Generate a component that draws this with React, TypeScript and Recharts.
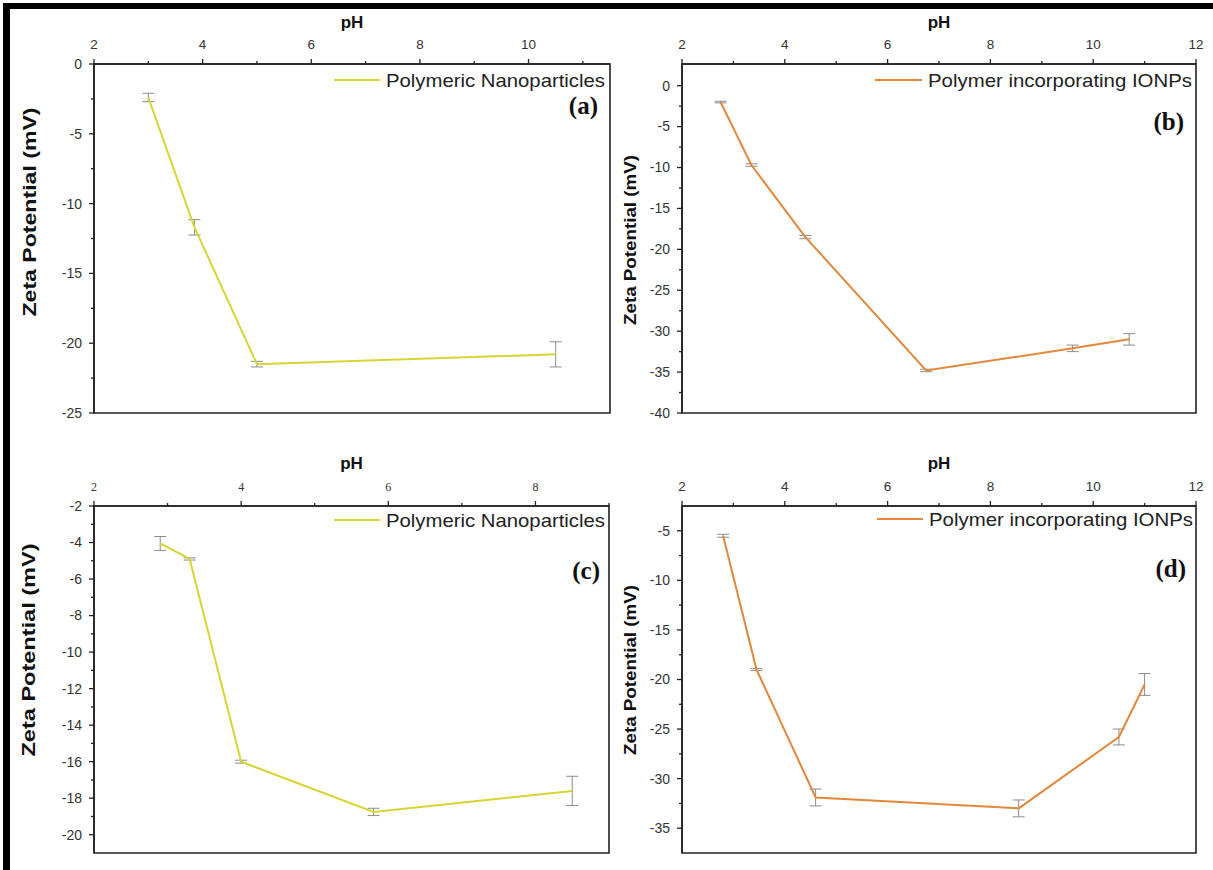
import React from 'react';
import { LineChart, Line, XAxis, YAxis, ErrorBar, ReferenceArea } from 'recharts';

// ---------- data ----------
// (a) Polymeric Nanoparticles
const phA = [3.0, 3.85, 5.0, 10.5];
const zetaA = [-2.4, -11.7, -21.5, -20.8];
const errA = [0.3, 0.55, 0.2, 0.9];
// (b) Polymer incorporating IONPs
const phB = [2.75, 3.35, 4.4, 6.75, 9.6, 10.7];
const zetaB = [-2.0, -9.7, -18.5, -34.8, -32.1, -31.0];
const errB = [0.1, 0.15, 0.2, 0.15, 0.4, 0.7];
// (c) Polymeric Nanoparticles
const phC = [2.9, 3.3, 4.0, 5.8, 8.5];
const zetaC = [-4.05, -4.9, -16.0, -18.75, -17.6];
const errC = [0.38, 0.06, 0.08, 0.2, 0.8];
// (d) Polymer incorporating IONPs
const phD = [2.8, 3.45, 4.6, 8.55, 10.5, 11.0];
const zetaD = [-5.5, -19.0, -31.9, -33.0, -25.8, -20.5];
const errD = [0.15, 0.1, 0.85, 0.85, 0.8, 1.1];

// ---------- ticks ----------
const xTicksA = [2, 3, 4, 5, 6, 7, 8, 9, 10, 11];
const xLabelsA = [2, 4, 6, 8, 10];
const xTicksB = [2, 3, 4, 5, 6, 7, 8, 9, 10, 11, 12];
const xLabelsB = [2, 4, 6, 8, 10, 12];
const xTicksC = [2, 3, 4, 5, 6, 7, 8, 9];
const xLabelsC = [2, 4, 6, 8];
const xTicksD = [2, 3, 4, 5, 6, 7, 8, 9, 10, 11, 12];
const xLabelsD = [2, 4, 6, 8, 10, 12];

const yTicksA = [0, -2.5, -5, -7.5, -10, -12.5, -15, -17.5, -20, -22.5, -25];
const yLabelsA = [0, -5, -10, -15, -20, -25];
const yTicksB = [0, -2.5, -5, -7.5, -10, -12.5, -15, -17.5, -20, -22.5, -25, -27.5, -30, -32.5, -35, -37.5, -40];
const yLabelsB = [0, -5, -10, -15, -20, -25, -30, -35, -40];
const yTicksC = [-2, -3, -4, -5, -6, -7, -8, -9, -10, -11, -12, -13, -14, -15, -16, -17, -18, -19, -20];
const yLabelsC = [-2, -4, -6, -8, -10, -12, -14, -16, -18, -20];
const yTicksD = [-5, -7.5, -10, -12.5, -15, -17.5, -20, -22.5, -25, -27.5, -30, -32.5, -35];
const yLabelsD = [-5, -10, -15, -20, -25, -30, -35];

const legendNP = 'Polymeric Nanoparticles';
const legendIONP = 'Polymer incorporating IONPs';
const xTitle = 'pH';
const yTitle = 'Zeta Potential (mV)';

const YELLOW = '#d6d633';
const ORANGE = '#e3883a';
const AXIS = '#222';
const SANS = '"Liberation Sans", Arial, sans-serif';
const SERIF = '"Liberation Serif", "Times New Roman", serif';

const zip = (ph: number[], z: number[], e: number[]) =>
  ph.map((p, i) => ({ ph: p, zeta: z[i], err: e[i] }));

type PanelCfg = {
  left: number; top: number; width: number; height: number;
  yAxisW: number; xAxisH: number; right: number; bottom: number;
  data: { ph: number; zeta: number; err: number }[];
  xDomain: [number, number]; yDomain: [number, number];
  xTicks: number[]; xLabels: number[]; yTicks: number[]; yLabels: number[];
  xTickFont: string; xTickSize: number;
  color: string; legend: string; legendLen: number;
  legendX1: number; legendX2: number; legendY: number;
  tag: string; tagX: number; tagY: number;
  titleX: number; titleY: number; titleSize: number; titleLen: number;
  phY: number;
};

const makeXTick = (labels: number[], font: string, size: number) => (p: any) => {
  const v = p.payload.value;
  const major = labels.includes(v);
  return (
    <g>
      <line x1={p.x} x2={p.x} y1={p.y} y2={p.y - (major ? 5 : 3)} stroke={AXIS} strokeWidth={1.3} />
      {major && (
        <text x={p.x} y={p.y - 15} textAnchor="middle" fontFamily={font} fontSize={size} fill="#333">
          {v}
        </text>
      )}
    </g>
  );
};

const makeYTick = (labels: number[]) => (p: any) => {
  const v = p.payload.value;
  const major = labels.includes(v);
  return (
    <g>
      <line x1={p.x} x2={p.x - (major ? 5 : 3)} y1={p.y} y2={p.y} stroke={AXIS} strokeWidth={1.3} />
      {major && (
        <text x={p.x - 12} y={p.y} dy="0.35em" textAnchor="end" fontFamily={SANS} fontSize={14} fill="#333">
          {v}
        </text>
      )}
    </g>
  );
};

function Panel({ c }: { c: PanelCfg }) {
  const plotL = c.yAxisW;
  const plotR = c.width - c.right;
  return (
    <div style={{ position: 'absolute', left: c.left, top: c.top, width: c.width, height: c.height }}>
      <LineChart
        width={c.width}
        height={c.height}
        data={c.data}
        margin={{ top: 0, left: 0, right: c.right, bottom: c.bottom }}
      >
        <XAxis
          type="number"
          dataKey="ph"
          orientation="top"
          domain={c.xDomain}
          ticks={c.xTicks}
          interval={0}
          height={c.xAxisH}
          tickSize={0}
          tickMargin={0}
          allowDataOverflow
          axisLine={{ stroke: AXIS, strokeWidth: 1.5 }}
          tick={makeXTick(c.xLabels, c.xTickFont, c.xTickSize)}
        />
        <YAxis
          type="number"
          domain={c.yDomain}
          ticks={c.yTicks}
          interval={0}
          width={c.yAxisW}
          tickSize={0}
          tickMargin={0}
          allowDataOverflow
          axisLine={{ stroke: AXIS, strokeWidth: 1.5 }}
          tick={makeYTick(c.yLabels)}
        />
        <ReferenceArea
          x1={c.xDomain[0]}
          x2={c.xDomain[1]}
          y1={c.yDomain[0]}
          y2={c.yDomain[1]}
          fill="none"
          fillOpacity={0}
          stroke={AXIS}
          strokeWidth={1.6}
          ifOverflow="visible"
        />
        <Line
          type="linear"
          dataKey="zeta"
          stroke={c.color}
          strokeWidth={2}
          dot={false}
          isAnimationActive={false}
        >
          <ErrorBar dataKey="err" width={6} stroke="#8c8c8c" strokeWidth={1} direction="y" />
        </Line>
        <text
          x={(plotL + plotR) / 2}
          y={c.phY}
          textAnchor="middle"
          fontFamily={SANS}
          fontWeight="bold"
          fontSize={17}
          fill="#111"
        >
          {xTitle}
        </text>
        <text
          transform={`translate(${c.titleX},${c.titleY}) rotate(-90)`}
          x={0}
          y={0}
          textAnchor="middle"
          fontFamily={SANS}
          fontWeight="bold"
          fontSize={c.titleSize}
          textLength={c.titleLen}
          lengthAdjust="spacingAndGlyphs"
          fill="#111"
        >
          {yTitle}
        </text>
        <line x1={c.legendX1} x2={c.legendX2} y1={c.legendY} y2={c.legendY} stroke={c.color} strokeWidth={2} />
        <text
          x={c.legendX2 + 6}
          y={c.legendY + 7}
          fontFamily={SANS}
          fontSize={19}
          textLength={c.legendLen}
          lengthAdjust="spacingAndGlyphs"
          fill="#222"
        >
          {c.legend}
        </text>
        <text
          x={c.tagX}
          y={c.tagY}
          textAnchor="end"
          fontFamily={SERIF}
          fontWeight="bold"
          fontSize={25}
          fill="#111"
        >
          {c.tag}
        </text>
      </LineChart>
    </div>
  );
}

const panels: PanelCfg[] = [
  {
    left: 0, top: 0, width: 640, height: 430, yAxisW: 94, xAxisH: 64, right: 30, bottom: 17,
    data: zip(phA, zetaA, errA), xDomain: [2, 11.5], yDomain: [-25, 0],
    xTicks: xTicksA, xLabels: xLabelsA, yTicks: yTicksA, yLabels: yLabelsA,
    xTickFont: SANS, xTickSize: 13.5,
    color: YELLOW, legend: legendNP, legendLen: 219,
    legendX1: 334, legendX2: 380, legendY: 80,
    tag: '(a)', tagX: 598, tagY: 114,
    titleX: 36, titleY: 212, titleSize: 19, titleLen: 209, phY: 28,
  },
  {
    left: 620, top: 0, width: 593, height: 430, yAxisW: 62, xAxisH: 64, right: 17, bottom: 17,
    data: zip(phB, zetaB, errB), xDomain: [2, 12], yDomain: [-40, 2.65],
    xTicks: xTicksB, xLabels: xLabelsB, yTicks: yTicksB, yLabels: yLabelsB,
    xTickFont: SANS, xTickSize: 13.5,
    color: ORANGE, legend: legendIONP, legendLen: 264,
    legendX1: 255, legendX2: 302, legendY: 80,
    tag: '(b)', tagX: 564, tagY: 130,
    titleX: 16, titleY: 240, titleSize: 17, titleLen: 170, phY: 28,
  },
  {
    left: 0, top: 430, width: 640, height: 440, yAxisW: 94, xAxisH: 76, right: 31, bottom: 17,
    data: zip(phC, zetaC, errC), xDomain: [2, 9], yDomain: [-21, -2],
    xTicks: xTicksC, xLabels: xLabelsC, yTicks: yTicksC, yLabels: yLabelsC,
    xTickFont: SERIF, xTickSize: 12,
    color: YELLOW, legend: legendNP, legendLen: 219,
    legendX1: 334, legendX2: 380, legendY: 90,
    tag: '(c)', tagX: 600, tagY: 149,
    titleX: 35, titleY: 220, titleSize: 19, titleLen: 213, phY: 39,
  },
  {
    left: 620, top: 430, width: 593, height: 440, yAxisW: 62, xAxisH: 76, right: 17, bottom: 17,
    data: zip(phD, zetaD, errD), xDomain: [2, 12], yDomain: [-37.5, -2.5],
    xTicks: xTicksD, xLabels: xLabelsD, yTicks: yTicksD, yLabels: yLabelsD,
    xTickFont: SANS, xTickSize: 13.5,
    color: ORANGE, legend: legendIONP, legendLen: 264,
    legendX1: 257, legendX2: 303, legendY: 89,
    tag: '(d)', tagX: 566, tagY: 147,
    titleX: 16, titleY: 240, titleSize: 17, titleLen: 170, phY: 39,
  },
];

export default function App() {
  return (
    <div style={{ position: 'absolute', left: 0, top: 0, width: 1213, height: 870, background: '#fff', overflow: 'hidden' }}>
      {panels.map((c, i) => (
        <Panel key={i} c={c} />
      ))}
      <div style={{ position: 'absolute', left: 3, top: 3, width: 1210, height: 6, background: '#000', zIndex: 5 }} />
      <div style={{ position: 'absolute', left: 3, top: 3, width: 7, height: 867, background: '#000', zIndex: 5 }} />
    </div>
  );
}
